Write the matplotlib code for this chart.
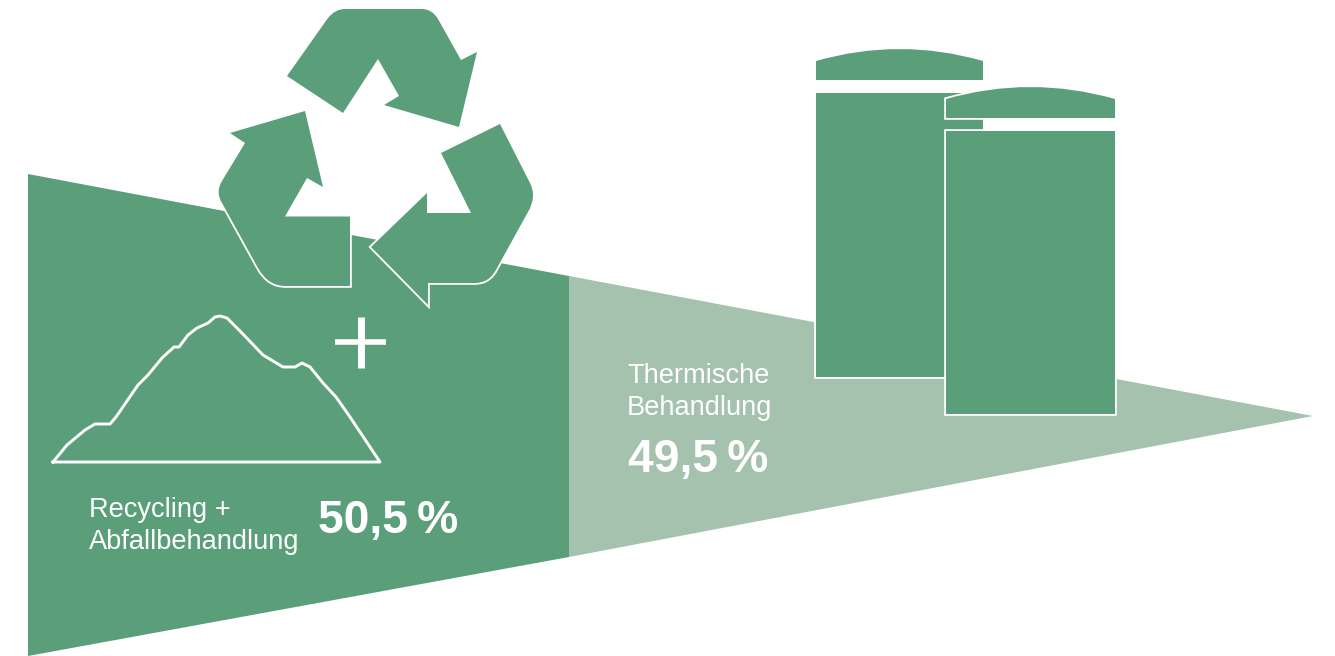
import matplotlib
matplotlib.use("Agg")
import matplotlib.pyplot as plt
from matplotlib.patches import PathPatch, Polygon, Rectangle
from matplotlib.path import Path

plt.rcParams['font.family'] = ['Liberation Sans', 'DejaVu Sans']

DARK = '#5a9e7a'
LIGHT = '#a4c2ae'

# Chart values
labels = ["Recycling +\nAbfallbehandlung", "Thermische\nBehandlung"]
shares = ["50,5", "49,5"]

# Wedge outline in picture pixels
wedge_left = [(28, 174), (569, 276), (569, 557), (28, 656)]
wedge_right = [(569, 276), (1313, 416), (569, 557)]

# Arrows: (x, y, is_control_point)
arrow_top = [(287, 76, 0), (328, 18, 0), (335, 9, 1), (345, 9, 0), (422, 9, 0), (432, 9, 1), (438, 19, 0),
             (461, 60, 0), (477, 52, 0), (459, 127, 0), (384, 105, 0), (399, 96, 0), (378, 59, 0), (343, 113, 0)]
arrow_left = [(305, 111, 0), (230, 133, 0), (245, 143, 0), (222, 181, 0), (215, 192, 1), (222, 203, 0),
              (258, 268, 0), (268, 286, 1), (285, 286, 0), (350, 286, 0), (350, 216.5, 0), (285, 216.5, 0),
              (307, 178, 0), (323, 187, 0)]
arrow_right = [(500, 124, 0), (441, 153, 0), (471, 213, 0), (427, 213, 0), (427, 193, 0), (371, 247, 0),
               (428, 305, 0), (428, 283, 0), (475, 283, 0), (490, 283, 1), (497, 268, 0), (528, 212, 0),
               (537, 197, 1), (530, 183, 0)]

mountain_x = [53, 67, 85, 95, 110, 116, 138, 148, 162, 174, 179, 188, 197, 208, 215, 220, 227, 240, 263,
              283, 295, 302, 310, 323, 336, 350, 380]
mountain_y = [462, 445, 430, 424, 424, 417, 385, 375, 358, 347, 347, 335, 328, 323, 317, 316, 318, 331, 355,
              367, 367, 363, 367, 383, 397, 417, 462]

# left, right, roof top, roof shoulder, roof bottom, body top, body bottom
tanks = [(816, 983, 49, 61, 80, 93, 377), (946, 1115, 87, 99, 118, 131, 414)]


def arrowPath(points):
    verts = []
    codes = []
    for i, (x, y, ctrl) in enumerate(points):
        verts.append((x, y))
        if i == 0:
            codes.append(Path.MOVETO)
        elif ctrl or points[i - 1][2]:
            codes.append(Path.CURVE3)
        else:
            codes.append(Path.LINETO)
    verts.append(verts[0])
    codes.append(Path.CLOSEPOLY)
    return Path(verts, codes)


# Draw white outline first and the fill on top, so the outline stays outside the shape
def outlined(ax, make_patch):
    ax.add_patch(make_patch(facecolor='white', edgecolor='white', linewidth=2.6, joinstyle='miter'))
    ax.add_patch(make_patch(facecolor=DARK, edgecolor='none'))


fig = plt.figure(figsize=(13.35, 6.56), dpi=100)
ax = fig.add_axes([0, 0, 1, 1])
ax.set_xlim(0, 1335)
ax.set_ylim(656, 0)
ax.axis('off')

ax.add_patch(Polygon(wedge_right, closed=True, facecolor=LIGHT, edgecolor='none'))
ax.add_patch(Polygon(wedge_left, closed=True, facecolor=DARK, edgecolor='none'))

for arrow in [arrow_top, arrow_left, arrow_right]:
    outlined(ax, lambda **kw: PathPatch(arrowPath(arrow), **kw))

for left, right, roof_top, shoulder, roof_bottom, body_top, body_bottom in tanks:
    roof = Path([(left, roof_bottom), (left, shoulder), ((left + right) / 2, 2 * roof_top - shoulder),
                 (right, shoulder), (right, roof_bottom), (left, roof_bottom)],
                [Path.MOVETO, Path.LINETO, Path.CURVE3, Path.CURVE3, Path.LINETO, Path.CLOSEPOLY])
    outlined(ax, lambda **kw: PathPatch(roof, **kw))
    outlined(ax, lambda **kw: Rectangle((left, body_top), right - left, body_bottom - body_top, **kw))

ax.plot(mountain_x + mountain_x[:1], mountain_y + mountain_y[:1], color='white', lw=2.1, solid_joinstyle='round')

# Plus sign
ax.plot([361, 361], [317, 368], color='white', lw=5, solid_capstyle='butt')
ax.plot([335, 386], [342, 342], color='white', lw=4, solid_capstyle='butt')

# Labels
ax.text(89, 517, labels[0].split("\n")[0], color='white', fontsize=19.6, va='baseline')
ax.text(89, 549, labels[0].split("\n")[1], color='white', fontsize=19.6, va='baseline')
ax.text(627, 383, labels[1].split("\n")[0], color='white', fontsize=19.6, va='baseline')
ax.text(627, 415, labels[1].split("\n")[1], color='white', fontsize=19.6, va='baseline')
ax.text(318, 533, shares[0] + "\u2009%", color='white', fontsize=33.3, fontweight='bold', va='baseline')
ax.text(628, 472, shares[1] + "\u2009%", color='white', fontsize=33.3, fontweight='bold', va='baseline')

fig.savefig("out.png", dpi=100)
